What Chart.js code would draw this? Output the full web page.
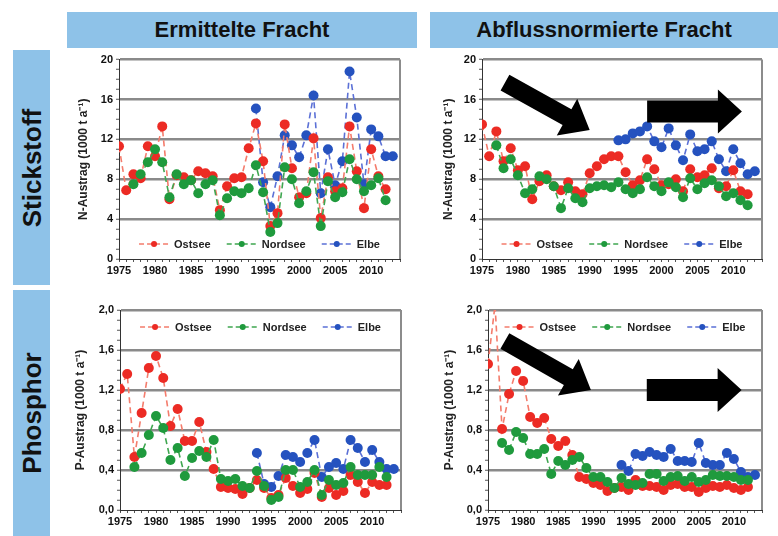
<!DOCTYPE html>
<html>
<head>
<meta charset="utf-8">
<script src="https://cdn.jsdelivr.net/npm/chart.js@4.4.1/dist/chart.umd.min.js"></script>
<style>
  body { margin: 0; background: #fff; }
  #page { position: relative; width: 778px; height: 536px; overflow: hidden; background: #fff;
          font-family: "Liberation Sans", Arial, sans-serif; }
  .head { position: absolute; background: #8ec2e8; color: #111; font-weight: bold; font-size: 22px;
          text-align: center; }
  .side { position: absolute; background: #8ec2e8; }
  .side span { position: absolute; left: 50%; top: 50%; color: #111; font-weight: bold; font-size: 26px;
               white-space: nowrap; transform: translate(-50%, -50%) rotate(-90deg); }
  .panel { position: absolute; }
</style>
</head>
<body>
<div id="page">
  <div class="head" style="left:67px; top:12px; width:350px; height:36px; line-height:36px;">Ermittelte Fracht</div>
  <div class="head" style="left:430px; top:12px; width:348px; height:36px; line-height:36px;">Abflussnormierte Fracht</div>
  <div class="side" style="left:13px; top:50px; width:37px; height:235px;"><span>Stickstoff</span></div>
  <div class="side" style="left:13px; top:290px; width:37px; height:246px;"><span>Phosphor</span></div>

  <div class="panel" id="boxNE" style="left:72px; top:50px; width:338px; height:230px;"><canvas id="chartNE"></canvas></div>
  <div class="panel" id="boxNQ" style="left:437px; top:50px; width:335px; height:230px;"><canvas id="chartNQ"></canvas></div>
  <div class="panel" id="boxPE" style="left:69px; top:300px; width:341px; height:230px;"><canvas id="chartPE"></canvas></div>
  <div class="panel" id="boxPQ" style="left:438px; top:300px; width:334px; height:230px;"><canvas id="chartPQ"></canvas></div>
</div>

<script>
// Jahre 1975 - 2013
var years = [1975, 1976, 1977, 1978, 1979, 1980, 1981, 1982, 1983, 1984,
             1985, 1986, 1987, 1988, 1989, 1990, 1991, 1992, 1993, 1994,
             1995, 1996, 1997, 1998, 1999, 2000, 2001, 2002, 2003, 2004,
             2005, 2006, 2007, 2008, 2009, 2010, 2011, 2012, 2013];

var seriesNames = ["Ostsee", "Nordsee", "Elbe"];

// Stickstoff, ermittelte Fracht (1000 t/a)
var nOstsee = [11.3, 6.9, 8.5, 8.1, 11.3, 10.3, 13.3, 6.0, 8.4, 8.2,
               7.9, 8.8, 8.6, 8.3, 4.9, 7.3, 8.1, 8.2, 11.1, 13.6,
               9.8, 3.3, 4.6, 13.5, 9.1, 6.2, 6.6, 12.1, 4.1, 8.2,
               6.8, 7.1, 13.3, 8.8, 5.1, 11.0, 8.3, 7.0, null];
var nNordsee = [null, null, 7.5, 8.5, 9.7, 11.0, 9.7, 6.2, 8.5, 7.5,
                7.9, 6.6, 7.5, 7.9, 4.4, 6.1, 6.8, 6.6, 7.1, 9.4,
                6.7, 2.7, 3.6, 9.2, 8.0, 5.6, 6.8, 8.7, 3.3, 7.8,
                6.2, 6.7, 10.0, 8.0, 6.8, 7.4, 8.1, 5.9, null];
var nElbe = [null, null, null, null, null, null, null, null, null, null,
             null, null, null, null, null, null, null, null, null, 15.1,
             7.7, 5.2, 8.3, 12.4, 11.4, 10.2, 12.4, 16.4, 6.6, 11.0,
             7.4, 9.8, 18.8, 14.2, 7.5, 13.0, 12.3, 10.3, 10.3];

// Stickstoff, abflussnormierte Fracht
var nqOstsee = [13.5, 10.3, 12.8, 9.8, 11.1, 8.9, 9.3, 6.0, 7.8, 8.4,
                7.3, 6.9, 7.7, 6.8, 6.5, 8.6, 9.3, 10.0, 10.3, 10.3,
                8.7, 7.4, 7.9, 10.0, 9.0, 7.4, 7.5, 8.0, 6.8, 9.0,
                8.2, 8.4, 9.1, 7.1, 7.3, 8.9, 6.8, 6.5, null];
var nqNordsee = [null, null, 11.4, 9.1, 10.0, 8.4, 6.6, 7.0, 8.3, 8.0,
                 7.3, 5.1, 7.1, 6.1, 5.7, 7.1, 7.3, 7.4, 7.2, 7.7,
                 7.0, 6.6, 7.0, 8.2, 7.3, 6.8, 7.7, 7.2, 6.2, 8.1,
                 7.0, 7.6, 7.9, 7.3, 6.3, 6.6, 5.9, 5.4, null];
var nqElbe = [null, null, null, null, null, null, null, null, null, null,
              null, null, null, null, null, null, null, null, null, 11.9,
              12.0, 12.6, 12.8, 13.3, 11.8, 11.2, 13.1, 11.4, 9.9, 12.5,
              10.8, 11.0, 11.8, 10.0, 8.8, 11.0, 9.6, 8.5, 8.8];

// Phosphor, ermittelte Fracht
var pOstsee = [1.21, 1.36, 0.53, 0.97, 1.42, 1.54, 1.32, 0.84, 1.01, 0.69,
               0.69, 0.88, 0.58, 0.41, 0.23, 0.22, 0.21, 0.16, 0.22, 0.30,
               0.22, 0.12, 0.15, 0.32, 0.24, 0.17, 0.21, 0.37, 0.13, 0.22,
               0.15, 0.19, 0.35, 0.28, 0.17, 0.28, 0.25, 0.25, null];
var pNordsee = [null, null, 0.43, 0.57, 0.75, 0.94, 0.82, 0.50, 0.62, 0.34,
                0.52, 0.59, 0.53, 0.70, 0.31, 0.29, 0.31, 0.24, 0.22, 0.39,
                0.24, 0.10, 0.13, 0.40, 0.40, 0.23, 0.28, 0.40, 0.15, 0.30,
                0.25, 0.27, 0.43, 0.35, 0.35, 0.35, 0.43, 0.33, null];
var pElbe = [null, null, null, null, null, null, null, null, null, null,
             null, null, null, null, null, null, null, null, null, 0.57,
             0.26, 0.23, 0.34, 0.55, 0.53, 0.48, 0.57, 0.70, 0.33, 0.43,
             0.47, 0.41, 0.70, 0.62, 0.48, 0.60, 0.48, 0.41, 0.41];

// Phosphor, abflussnormierte Fracht
var pqOstsee = [1.46, 2.05, 0.81, 1.16, 1.39, 1.29, 0.93, 0.87, 0.92, 0.71,
                0.64, 0.69, 0.55, 0.33, 0.31, 0.27, 0.25, 0.19, 0.22, 0.23,
                0.20, 0.30, 0.24, 0.24, 0.23, 0.20, 0.25, 0.26, 0.23, 0.23,
                0.18, 0.22, 0.24, 0.23, 0.25, 0.22, 0.20, 0.23, null];
var pqNordsee = [null, null, 0.67, 0.60, 0.78, 0.72, 0.56, 0.56, 0.61, 0.36,
                 0.49, 0.45, 0.50, 0.53, 0.42, 0.33, 0.33, 0.28, 0.22, 0.32,
                 0.26, 0.25, 0.27, 0.36, 0.36, 0.29, 0.33, 0.34, 0.29, 0.33,
                 0.28, 0.30, 0.35, 0.34, 0.34, 0.33, 0.30, 0.30, null];
var pqElbe = [null, null, null, null, null, null, null, null, null, null,
              null, null, null, null, null, null, null, null, null, 0.45,
              0.39, 0.56, 0.54, 0.58, 0.55, 0.53, 0.61, 0.49, 0.49, 0.48,
              0.67, 0.47, 0.45, 0.45, 0.57, 0.51, 0.38, 0.33, 0.35];

// Trendpfeile: [Jahr, Wert] Start und Spitze
var arrowsN = [[[1978.2, 17.7], [1990.0, 12.95]], [[1998.0, 14.8], [2011.2, 14.8]]];
var arrowsP = [[[1977.4, 1.69], [1989.65, 1.20]], [[1997.6, 1.20], [2011.1, 1.20]]];

var lineColors = ["#f47c6c", "#3fa650", "#5b70d6"];
var pointColors = ["#ec2b24", "#1f9a3d", "#2552bf"];

Chart.defaults.font.family = "'Liberation Sans Narrow', 'Liberation Sans', Arial, sans-serif";
Chart.defaults.color = "#222";

function toPoints(values) {
  var pts = [];
  for (var i = 0; i < years.length; i++) {
    pts.push({ x: years[i], y: values[i] });
  }
  return pts;
}

function makeDataset(idx, values) {
  return {
    label: seriesNames[idx],
    data: toPoints(values),
    borderColor: lineColors[idx],
    borderWidth: 1.6,
    borderDash: [6, 4],
    pointRadius: 5,
    pointBorderWidth: 0,
    pointBackgroundColor: pointColors[idx],
    pointBorderColor: pointColors[idx],
    fill: false,
    tension: 0,
    order: idx === 2 ? 3 : (idx === 0 ? 2 : 1)
  };
}

function drawArrow(ctx, x0, y0, x1, y1, shaft, headW, headL) {
  var dx = x1 - x0, dy = y1 - y0;
  var len = Math.sqrt(dx * dx + dy * dy);
  var ux = dx / len, uy = dy / len, nx = -uy, ny = ux;
  var bx = x1 - ux * headL, by = y1 - uy * headL;
  ctx.beginPath();
  ctx.moveTo(x0 + nx * shaft / 2, y0 + ny * shaft / 2);
  ctx.lineTo(bx + nx * shaft / 2, by + ny * shaft / 2);
  ctx.lineTo(bx + nx * headW / 2, by + ny * headW / 2);
  ctx.lineTo(x1, y1);
  ctx.lineTo(bx - nx * headW / 2, by - ny * headW / 2);
  ctx.lineTo(bx - nx * shaft / 2, by - ny * shaft / 2);
  ctx.lineTo(x0 - nx * shaft / 2, y0 - ny * shaft / 2);
  ctx.closePath();
  ctx.fill();
}

var panelExtras = {
  id: 'panelExtras',
  beforeDatasetsDraw: function(chart) {
    var a = chart.chartArea, ctx = chart.ctx;
    ctx.save();
    ctx.strokeStyle = '#8c8c8c';
    ctx.lineWidth = 2;
    ctx.beginPath();
    ctx.moveTo(a.right, a.top);
    ctx.lineTo(a.right, a.bottom);
    ctx.stroke();
    ctx.restore();
  },
  afterDatasetsDraw: function(chart, args, opts) {
    var a = chart.chartArea, ctx = chart.ctx;
    var xs = chart.scales.x, ys = chart.scales.y;
    ctx.save();

    // Legende im Diagramm
    ctx.font = 'bold 11px "Liberation Sans", Arial, sans-serif';
    ctx.textBaseline = 'middle';
    var lineLen = 30, gap = 5, spacing = 16, total = 0, i;
    var sets = chart.data.datasets;
    for (i = 0; i < sets.length; i++) {
      total += lineLen + gap + ctx.measureText(sets[i].label).width;
    }
    total += spacing * (sets.length - 1);
    var lx = (a.left + a.right) / 2 - total / 2;
    var ly = opts.legendTop ? a.top + 17 : a.bottom - 15;
    for (i = 0; i < sets.length; i++) {
      ctx.strokeStyle = sets[i].borderColor;
      ctx.lineWidth = 1.6;
      ctx.setLineDash([5, 3]);
      ctx.beginPath();
      ctx.moveTo(lx, ly);
      ctx.lineTo(lx + lineLen, ly);
      ctx.stroke();
      ctx.setLineDash([]);
      ctx.fillStyle = sets[i].pointBackgroundColor;
      ctx.beginPath();
      ctx.arc(lx + lineLen / 2, ly, 3, 0, Math.PI * 2);
      ctx.fill();
      ctx.fillStyle = '#222';
      ctx.fillText(sets[i].label, lx + lineLen + gap, ly + 0.5);
      lx += lineLen + gap + ctx.measureText(sets[i].label).width + spacing;
    }

    // Pfeile
    if (opts.arrows) {
      ctx.fillStyle = '#000';
      for (i = 0; i < opts.arrows.length; i++) {
        var ar = opts.arrows[i];
        var diag = ar[0][1] !== ar[1][1];
        drawArrow(ctx,
          xs.getPixelForValue(ar[0][0]), ys.getPixelForValue(ar[0][1]),
          xs.getPixelForValue(ar[1][0]), ys.getPixelForValue(ar[1][1]),
          diag ? 18 : 22, diag ? 42 : 44, diag ? 26 : 24);
      }
    }
    ctx.restore();
  }
};

function makePanel(canvasId, values, cfg) {
  var ctx = document.getElementById(canvasId);
  var labelEvery = 4;
  return new Chart(ctx, {
    type: 'line',
    data: {
      datasets: [makeDataset(0, values[0]), makeDataset(1, values[1]), makeDataset(2, values[2])]
    },
    options: {
      responsive: true,
      maintainAspectRatio: false,
      animation: false,
      events: [],
      layout: { padding: { top: cfg.padTop, right: cfg.padRight, left: 0, bottom: 0 } },
      plugins: {
        legend: { display: false },
        tooltip: { enabled: false },
        panelExtras: { legendTop: cfg.legendTop, arrows: cfg.arrows }
      },
      scales: {
        x: {
          type: 'linear',
          min: 1975,
          max: 2014,
          afterFit: function(s) { s.height = cfg.xHeight; },
          ticks: {
            stepSize: 1,
            autoSkip: false,
            maxRotation: 0,
            padding: 2,
            color: '#111',
            font: { size: 11, weight: 'bold' },
            callback: function(v) { return v % 5 === 0 ? String(v) : ''; }
          },
          grid: { drawOnChartArea: false, tickLength: 3, tickColor: '#555' },
          border: { color: '#333', width: 1 }
        },
        y: {
          min: 0,
          max: cfg.yMax,
          afterFit: function(s) { s.width = cfg.yWidth; },
          ticks: {
            stepSize: cfg.yMax / 20,
            autoSkip: false,
            padding: 3,
            color: '#111',
            font: { size: 11, weight: 'bold' },
            callback: function(v, i) {
              if (i % labelEvery !== 0) return '';
              return cfg.decimals ? v.toFixed(1).replace('.', ',') : String(Math.round(v));
            }
          },
          grid: {
            color: function(c) { return (c.index % labelEvery === 0 && c.index > 0) ? '#8a8a8a' : 'rgba(0,0,0,0)'; },
            lineWidth: 2.5,
            tickLength: 3,
            tickColor: '#555',
            tickWidth: 1
          },
          border: { color: '#333', width: 1 },
          title: {
            display: true,
            text: cfg.yTitle,
            color: '#222',
            font: { size: 12, weight: 'bold', family: "'Liberation Sans', Arial, sans-serif" }
          }
        }
      }
    },
    plugins: [panelExtras]
  });
}

makePanel('chartNE', [nOstsee, nNordsee, nElbe], {
  yMax: 20, decimals: false, yTitle: 'N-Austrag (1000 t a\u207B\u00B9)',
  padTop: 9, padRight: 10, xHeight: 21, yWidth: 47, legendTop: false, arrows: null
});
makePanel('chartNQ', [nqOstsee, nqNordsee, nqElbe], {
  yMax: 20, decimals: false, yTitle: 'N-Austrag (1000 t a\u207B\u00B9)',
  padTop: 9, padRight: 10, xHeight: 21, yWidth: 45, legendTop: false, arrows: arrowsN
});
makePanel('chartPE', [pOstsee, pNordsee, pElbe], {
  yMax: 2, decimals: true, yTitle: 'P-Austrag (1000 t a\u207B\u00B9)',
  padTop: 10, padRight: 9, xHeight: 20, yWidth: 51, legendTop: true, arrows: null
});
makePanel('chartPQ', [pqOstsee, pqNordsee, pqElbe], {
  yMax: 2, decimals: true, yTitle: 'P-Austrag (1000 t a\u207B\u00B9)',
  padTop: 10, padRight: 10, xHeight: 20, yWidth: 50, legendTop: true, arrows: arrowsP
});
</script>
</body>
</html>
